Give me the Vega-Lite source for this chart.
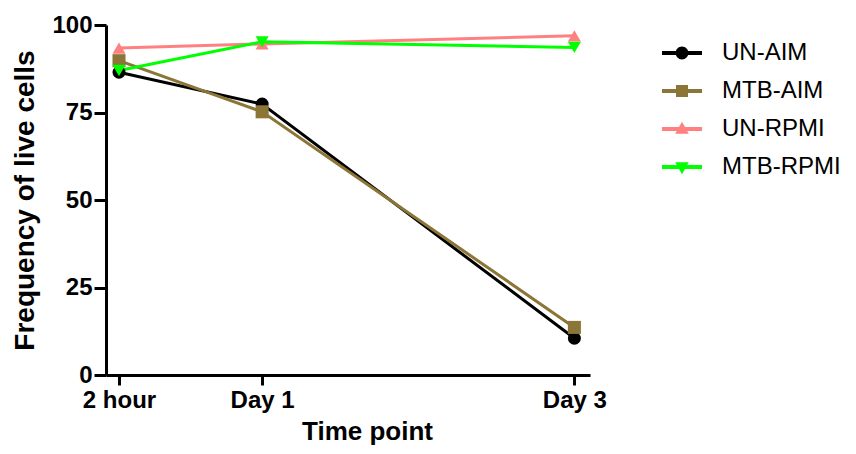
{
  "$schema": "https://vega.github.io/schema/vega-lite/v6.json",
  "width": 484,
  "height": 350,
  "autosize": "none",
  "padding": {"left": 106, "top": 25, "right": 266, "bottom": 79},
  "background": "white",
  "config": {
    "view": {"stroke": null},
    "font": "Liberation Sans",
    "axis": {
      "grid": false,
      "domainColor": "black",
      "domainWidth": 3,
      "tickColor": "black",
      "tickWidth": 3,
      "labelColor": "black",
      "titleColor": "black",
      "labelFont": "Liberation Sans",
      "titleFont": "Liberation Sans",
      "labelFontWeight": "bold",
      "titleFontWeight": "bold"
    },
    "legend": {
      "title": null,
      "orient": "none",
      "legendX": 556,
      "legendY": 8,
      "symbolSize": 1600,
      "symbolStrokeWidth": 0,
      "symbolOpacity": 1,
      "rowPadding": 6,
      "labelFont": "Liberation Sans",
      "labelFontSize": 24,
      "labelColor": "black",
      "labelOffset": 20
    }
  },
  "data": {
    "values": [
      {"series": "UN-AIM", "t": 0.0833, "freq": 86.5},
      {"series": "UN-AIM", "t": 1, "freq": 77.4},
      {"series": "UN-AIM", "t": 3, "freq": 10.5},
      {"series": "MTB-AIM", "t": 0.0833, "freq": 89.8},
      {"series": "MTB-AIM", "t": 1, "freq": 75.2},
      {"series": "MTB-AIM", "t": 3, "freq": 13.6},
      {"series": "UN-RPMI", "t": 0.0833, "freq": 93.4},
      {"series": "UN-RPMI", "t": 1, "freq": 94.6},
      {"series": "UN-RPMI", "t": 3, "freq": 96.9},
      {"series": "MTB-RPMI", "t": 0.0833, "freq": 87.0},
      {"series": "MTB-RPMI", "t": 1, "freq": 95.2},
      {"series": "MTB-RPMI", "t": 3, "freq": 93.6}
    ]
  },
  "encoding": {
    "x": {
      "field": "t",
      "type": "quantitative",
      "scale": {"domain": [0, 3.1], "nice": false, "zero": false},
      "axis": {
        "title": "Time point",
        "values": [0.0833, 1, 3],
        "labelExpr": "datum.value < 0.5 ? '2 hour' : 'Day ' + datum.value",
        "labelFontSize": 24,
        "titleFontSize": 26,
        "tickSize": 10,
        "labelPadding": 3,
        "titlePadding": 6,
        "titleX": 261
      }
    },
    "y": {
      "field": "freq",
      "type": "quantitative",
      "scale": {"domain": [0, 100], "nice": false},
      "axis": {
        "title": "Frequency of live cells",
        "values": [0, 25, 50, 75, 100],
        "labelFontSize": 24,
        "titleFontSize": 28,
        "tickSize": 12,
        "labelPadding": 2,
        "titlePadding": 12
      }
    },
    "color": {
      "field": "series",
      "type": "nominal",
      "sort": ["UN-AIM", "MTB-AIM", "UN-RPMI", "MTB-RPMI"],
      "scale": {
        "domain": ["UN-AIM", "MTB-AIM", "UN-RPMI", "MTB-RPMI"],
        "range": ["#000000", "#8B7637", "#FF8080", "#00FF00"]
      }
    }
  },
  "layer": [
    {
      "mark": {"type": "line", "strokeWidth": 3},
      "encoding": {}
    },
    {
      "transform": [{"filter": "datum.series === 'UN-AIM'"}],
      "mark": {"type": "point", "shape": "circle", "filled": true, "opacity": 1, "size": 170},
      "encoding": {}
    },
    {
      "transform": [{"filter": "datum.series === 'MTB-AIM'"}],
      "mark": {"type": "point", "shape": "square", "filled": true, "opacity": 1, "size": 170},
      "encoding": {}
    },
    {
      "transform": [{"filter": "datum.series === 'UN-RPMI'"}],
      "mark": {"type": "point", "shape": "triangle-up", "filled": true, "opacity": 1, "size": 170},
      "encoding": {}
    },
    {
      "transform": [{"filter": "datum.series === 'MTB-RPMI'"}],
      "mark": {"type": "point", "shape": "triangle-down", "filled": true, "opacity": 1, "size": 170},
      "encoding": {}
    },
    {
      "mark": {"type": "point", "filled": true, "opacity": 0},
      "encoding": {
        "shape": {
          "field": "series",
          "type": "nominal",
          "sort": ["UN-AIM", "MTB-AIM", "UN-RPMI", "MTB-RPMI"],
          "scale": {
            "domain": ["UN-AIM", "MTB-AIM", "UN-RPMI", "MTB-RPMI"],
            "range": [
              "M-1,-0.1H1V0.1H-1Z M0.32,0 A0.32,0.32 0 1,1 -0.32,0 A0.32,0.32 0 1,1 0.32,0Z",
              "M-1,-0.1H1V0.1H-1Z M-0.3,-0.3H0.3V0.3H-0.3Z",
              "M-1,-0.1H1V0.1H-1Z M0,-0.36L0.34,0.24H-0.34Z",
              "M-1,-0.1H1V0.1H-1Z M-0.34,-0.24H0.34L0,0.36Z"
            ]
          }
        },
        "size": {"value": 170}
      }
    }
  ]
}
